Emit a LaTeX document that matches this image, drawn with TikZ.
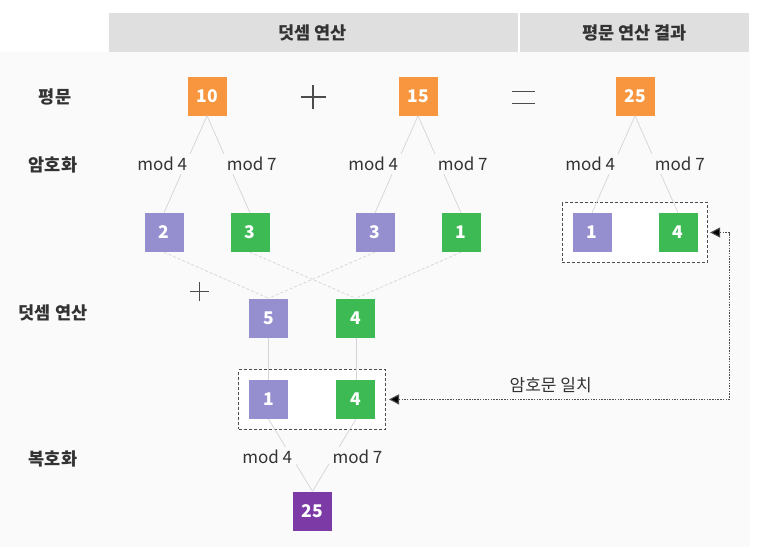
\documentclass[tikz,border=0pt]{standalone}
\usepackage{fontspec}
\setmainfont{Noto Sans CJK KR}
\usetikzlibrary{positioning,fit,backgrounds,arrows.meta}

\definecolor{plainorange}{HTML}{F7963F}
\definecolor{modfour}{HTML}{958FD0}
\definecolor{modseven}{HTML}{3DBA54}
\definecolor{decpurple}{HTML}{7B3AA5}
\definecolor{headgray}{HTML}{DFDFDF}
\definecolor{panelgray}{HTML}{FAFAFA}
\definecolor{linegray}{HTML}{D4D4D4}
\definecolor{textgray}{HTML}{333333}

\tikzset{
    box node/.style={rectangle, minimum size=39pt, inner sep=0, text=white, font=\fontsize{17.5}{17.5}\selectfont\bfseries},
    plain node/.style={box node, fill=plainorange},
    mod4 node/.style={box node, fill=modfour},
    mod7 node/.style={box node, fill=modseven},
    dec node/.style={box node, fill=decpurple},
    mod label/.style={fill=panelgray, inner xsep=4pt, inner ysep=3pt, text=textgray, font=\fontsize{17}{17}\selectfont},
    row label/.style={text=textgray, font=\fontsize{17.5}{17.5}\selectfont\bfseries},
    head label/.style={text=textgray, font=\fontsize{17.5}{17.5}\selectfont\bfseries},
    frame/.style={draw=black!70, line width=0.8pt, dash pattern=on 3pt off 2pt, fill=white, inner sep=10pt},
    thin/.style={draw=linegray, line width=0.7pt},
    cross/.style={draw=linegray, line width=0.7pt, dash pattern=on 3pt off 2pt},
    sign/.style={draw=black!70, line width=1.5pt},
    match/.style={draw=black!70, line width=1.1pt, dash pattern=on 1.5pt off 1.2pt,
        {Triangle[length=10pt,width=10pt,fill=black]}-{Triangle[length=10pt,width=10pt,fill=black]}, shorten <=2pt, shorten >=3pt}
    }

\begin{document}
\begin{tikzpicture}[x=1pt, y=1pt, level distance=136.5pt, sibling distance=86pt,
        parent anchor=south, child anchor=north,
        edge from parent/.style={thin}]
    \useasboundingbox (0,0) rectangle (762,-547);
    \begin{scope}[on background layer]
        \fill[panelgray] (0,-52) rectangle (750,-547);
        \fill[headgray] (109,-13) rectangle (518,-52);
        \fill[headgray] (520,-13) rectangle (749,-52);
    \end{scope}
    \node (head add) [head label] at (312.5,-33) {덧셈 연산};
    \node (head res) [head label] at (634.5,-33) {평문 연산 결과};

    % row labels
    \node (row plain) [row label] at (55,-97) {평문};
    \node (row enc) [row label] at (53,-165) {암호화};
    \node (row add) [row label] at (53,-313) {덧셈 연산};
    \node (row dec) [row label] at (53,-459) {복호화};

    % plaintexts and their residues
    \node (p10) [plain node] at (207,-96) {10}
        child{node (c10a) [mod4 node] {2}
            edge from parent node[mod label, left, xshift=6pt]{mod 4}
        }
        child{node (c10b) [mod7 node] {3}
            edge from parent node[mod label, right, xshift=-6pt]{mod 7}
        };
    \node (p15) [plain node] at (418,-96) {15}
        child{node (c15a) [mod4 node] {3}
            edge from parent node[mod label, left, xshift=6pt]{mod 4}
        }
        child{node (c15b) [mod7 node] {1}
            edge from parent node[mod label, right, xshift=-6pt]{mod 7}
        };
    \node (p25) [plain node] at (635,-96) {25}
        child{node (c25a) [mod4 node] {1}
            edge from parent node[mod label, left, xshift=6pt]{mod 4}
        }
        child{node (c25b) [mod7 node] {4}
            edge from parent node[mod label, right, xshift=-6pt]{mod 7}
        };

    % signs
    \coordinate (plus top) at (313,-97);
    \coordinate (equal top) at (523.5,-97.5);
    \coordinate (plus low) at (199.5,-291.5);
    \draw[sign] ([xshift=-12.5pt]plus top) -- ([xshift=12.5pt]plus top);
    \draw[sign] ([yshift=12pt]plus top) -- ([yshift=-12pt]plus top);
    \draw[sign] ([xshift=-11.5pt,yshift=5.8pt]equal top) -- ([xshift=11.5pt,yshift=5.8pt]equal top);
    \draw[sign] ([xshift=-11.5pt,yshift=-5.8pt]equal top) -- ([xshift=11.5pt,yshift=-5.8pt]equal top);
    \draw[sign] ([xshift=-9.5pt]plus low) -- ([xshift=9.5pt]plus low);
    \draw[sign] ([yshift=9.5pt]plus low) -- ([yshift=-9.5pt]plus low);

    % homomorphic addition
    \node (s5) [mod4 node] at (268.5,-318) {5};
    \node (s4) [mod7 node, right=48pt of s5] {4};
    \draw[cross] (c10a.south) -- (s5.north);
    \draw[cross] (c15a.south) -- (s5.north);
    \draw[cross] (c10b.south) -- (s4.north);
    \draw[cross] (c15b.south) -- (s4.north);
    \node (d1) [mod4 node, below=42pt of s5] {1};
    \node (d4) [mod7 node, below=42pt of s4] {4};
    \draw[thin] (s5) -- (d1);
    \draw[thin] (s4) -- (d4);

    % decryption
    \node (dec) [dec node] at (312.5,-511) {25};
    \draw[thin] (d1.south) -- node[mod label, left, xshift=6pt, yshift=-2pt]{mod 4} (dec.north);
    \draw[thin] (d4.south) -- node[mod label, right, xshift=-6pt, yshift=-2pt]{mod 7} (dec.north);

    % ciphertext match
    \begin{scope}[on background layer]
        \node (res frame) [frame, fit=(c25a)(c25b)] {};
        \node (dec frame) [frame, fit=(d1)(d4)] {};
    \end{scope}
    \draw[match] (res frame.east) -- ++(21,0) |- (dec frame.east)
        node[pos=0.76, above=3pt, text=textgray, font=\fontsize{17}{17}\selectfont]{암호문 일치};
\end{tikzpicture}
\end{document}
